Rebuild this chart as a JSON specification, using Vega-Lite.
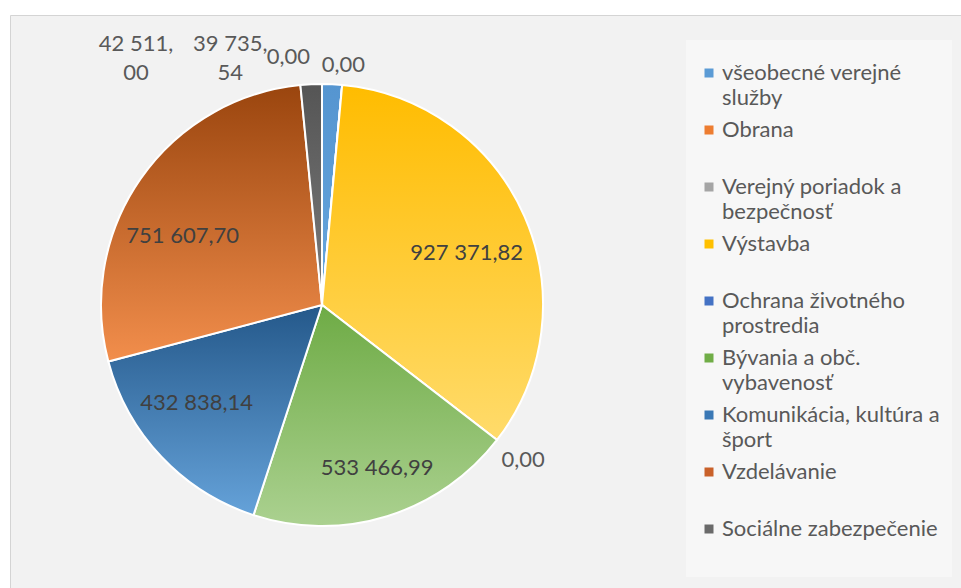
{
  "$schema": "https://vega.github.io/schema/vega-lite/v6.json",
  "autosize": {"type": "none"},
  "width": 951,
  "height": 573,
  "padding": {"left": 10, "top": 15, "right": 0, "bottom": 0},
  "background": "#ffffff",
  "config": {
    "view": {"fill": "#f2f2f2", "stroke": "#d4d4d4", "strokeWidth": 1},
    "locale": {"number": {"decimal": ",", "thousands": " ", "grouping": [3], "currency": ["", ""]}},
    "font": "Lato",
    "style": {
      "guide-label": {"lineHeight": 24.5},
      "view": {"fill": "#f2f2f2", "stroke": "#d4d4d4", "strokeWidth": 1}
    }
  },
  "data": {
    "values": [
      {"i": 1, "cat": "všeobecné verejné služby", "value": 39735.54},
      {"i": 2, "cat": "Obrana", "value": 0},
      {"i": 3, "cat": "Verejný poriadok a bezpečnosť", "value": 0},
      {"i": 4, "cat": "Výstavba", "value": 927371.82},
      {"i": 5, "cat": "Ochrana životného prostredia", "value": 0},
      {"i": 6, "cat": "Bývania a obč. vybavenosť", "value": 533466.99},
      {"i": 7, "cat": "Komunikácia, kultúra a šport", "value": 432838.14},
      {"i": 8, "cat": "Vzdelávanie", "value": 751607.70},
      {"i": 9, "cat": "Sociálne zabezpečenie", "value": 42511.00}
    ]
  },
  "encoding": {
    "theta": {"field": "value", "type": "quantitative", "stack": true},
    "order": {"field": "i", "type": "quantitative"}
  },
  "layer": [
    {
      "mark": {"type": "arc", "radius": 221, "x": 312, "y": 290},
      "encoding": {
        "color": {
          "field": "cat", "type": "nominal",
          "scale": {
            "domain": ["všeobecné verejné služby", "Obrana", "Verejný poriadok a bezpečnosť", "Výstavba", "Ochrana životného prostredia", "Bývania a obč. vybavenosť", "Komunikácia, kultúra a šport", "Vzdelávanie", "Sociálne zabezpečenie"],
            "range": ["#5b9bd5", "#ed7d31", "#a5a5a5", "#ffc000", "#4472c4", "#70ad47", "#3a78b5", "#c9612a", "#6a6a6a"]
          },
          "legend": {
            "title": null,
            "orient": "none",
            "legendX": 676,
            "legendY": 25,
            "padding": 12,
            "fillColor": "#f7f7f7",
            "symbolType": "M-0.45,0.55H0.45V1.45H-0.45Z",
            "symbolSize": 400,
            "symbolStrokeWidth": 0,
            "labelFont": "Lato",
            "labelFontSize": 22,
            "labelColor": "#595959",
            "labelLimit": 400,
            "labelOffset": 2,
            "rowPadding": 0,
            "labelBaseline": "top",
            "labelExpr": "datum.label == 'všeobecné verejné služby' ? ['všeobecné verejné', 'služby'] : datum.label == 'Verejný poriadok a bezpečnosť' ? ['Verejný poriadok a', 'bezpečnosť'] : datum.label == 'Ochrana životného prostredia' ? ['Ochrana životného', 'prostredia'] : datum.label == 'Bývania a obč. vybavenosť' ? ['Bývania a obč.', 'vybavenosť'] : datum.label == 'Komunikácia, kultúra a šport' ? ['Komunikácia, kultúra a', 'šport'] : [datum.label, ' ']"
          }
        }
      }
    },
    {
      "mark": {"type": "arc", "radius": 221, "x": 312, "y": 290, "stroke": "#ffffff", "strokeWidth": 2},
      "encoding": {
        "fill": {
          "condition": [
            {"test": "datum.cat === 'Výstavba'", "value": {"gradient": "linear", "x1": 0, "y1": 0, "x2": 0, "y2": 1, "stops": [{"offset": 0, "color": "#ffbc00"}, {"offset": 1, "color": "#ffdb6b"}]}},
            {"test": "datum.cat === 'Bývania a obč. vybavenosť'", "value": {"gradient": "linear", "x1": 0, "y1": 0, "x2": 0, "y2": 1, "stops": [{"offset": 0, "color": "#6eab45"}, {"offset": 1, "color": "#abd190"}]}},
            {"test": "datum.cat === 'Komunikácia, kultúra a šport'", "value": {"gradient": "linear", "x1": 0, "y1": 0, "x2": 0, "y2": 1, "stops": [{"offset": 0, "color": "#24588a"}, {"offset": 1, "color": "#65a2d9"}]}},
            {"test": "datum.cat === 'Vzdelávanie'", "value": {"gradient": "linear", "x1": 0, "y1": 0, "x2": 0, "y2": 1, "stops": [{"offset": 0, "color": "#9a450e"}, {"offset": 1, "color": "#f28e4c"}]}},
            {"test": "datum.cat === 'Sociálne zabezpečenie'", "value": {"gradient": "linear", "x1": 0, "y1": 0, "x2": 0, "y2": 1, "stops": [{"offset": 0, "color": "#555555"}, {"offset": 1, "color": "#7b7b7b"}]}}
          ],
          "value": {"gradient": "linear", "x1": 0, "y1": 0, "x2": 0, "y2": 1, "stops": [{"offset": 0, "color": "#5595d0"}, {"offset": 1, "color": "#67a6de"}]}
        }
      }
    },
    {
      "mark": {"type": "text", "x": 312, "y": 290, "radius": 160, "fontSize": 22, "fill": "#404040", "dx": -2, "dy": 12},
      "encoding": {"text": {"condition": {"test": "datum.cat === 'Výstavba'", "field": "value", "type": "quantitative", "format": ",.2f"}, "value": ""}}
    },
    {
      "mark": {"type": "text", "x": 312, "y": 290, "radius": 160, "fontSize": 22, "fill": "#404040", "dx": -8, "dy": 22},
      "encoding": {"text": {"condition": {"test": "datum.cat === 'Vzdelávanie'", "field": "value", "type": "quantitative", "format": ",.2f"}, "value": ""}}
    },
    {
      "mark": {"type": "text", "x": 312, "y": 290, "radius": 160, "fontSize": 22, "fill": "#404040", "dx": -9, "dy": -12},
      "encoding": {"text": {"condition": {"test": "datum.cat === 'Komunikácia, kultúra a šport'", "field": "value", "type": "quantitative", "format": ",.2f"}, "value": ""}}
    },
    {
      "mark": {"type": "text", "x": 312, "y": 290, "radius": 160, "fontSize": 22, "fill": "#404040", "dx": 8, "dy": 10},
      "encoding": {"text": {"condition": {"test": "datum.cat === 'Bývania a obč. vybavenosť'", "field": "value", "type": "quantitative", "format": ",.2f"}, "value": ""}}
    },
    {
      "mark": {"type": "text", "x": 312, "y": 290, "radius": 254, "fontSize": 22, "fill": "#595959"},
      "encoding": {"text": {"condition": {"test": "datum.cat === 'Ochrana životného prostredia'", "field": "value", "type": "quantitative", "format": ",.2f"}, "value": ""}}
    },
    {
      "mark": {"type": "text", "x": 312, "y": 290, "radius": 245, "fontSize": 22, "fill": "#595959", "dx": -1, "dy": 4},
      "encoding": {"text": {"condition": {"test": "datum.cat === 'Obrana'", "field": "value", "type": "quantitative", "format": ",.2f"}, "value": ""}}
    },
    {
      "mark": {"type": "text", "x": 312, "y": 290, "radius": 245, "fontSize": 22, "fill": "#595959", "dx": -56, "dy": -4},
      "encoding": {"text": {"condition": {"test": "datum.cat === 'Verejný poriadok a bezpečnosť'", "field": "value", "type": "quantitative", "format": ",.2f"}, "value": ""}}
    },
    {
      "transform": [{"calculate": "[split(format(datum.value, ',.2f'), ',')[0] + ',', split(format(datum.value, ',.2f'), ',')[1]]", "as": "lab2"}],
      "mark": {"type": "text", "x": 312, "y": 290, "radius": 245, "fontSize": 22, "lineHeight": 29, "fill": "#595959", "dx": -103, "dy": -16},
      "encoding": {"text": {"condition": {"test": "datum.cat === 'všeobecné verejné služby'", "field": "lab2", "type": "nominal"}, "value": ""}}
    },
    {
      "transform": [{"calculate": "[split(format(datum.value, ',.2f'), ',')[0] + ',', split(format(datum.value, ',.2f'), ',')[1]]", "as": "lab2"}],
      "mark": {"type": "text", "x": 312, "y": 290, "radius": 245, "fontSize": 22, "lineHeight": 29, "fill": "#595959", "dx": -174, "dy": -16},
      "encoding": {"text": {"condition": {"test": "datum.cat === 'Sociálne zabezpečenie'", "field": "lab2", "type": "nominal"}, "value": ""}}
    }
  ]
}
